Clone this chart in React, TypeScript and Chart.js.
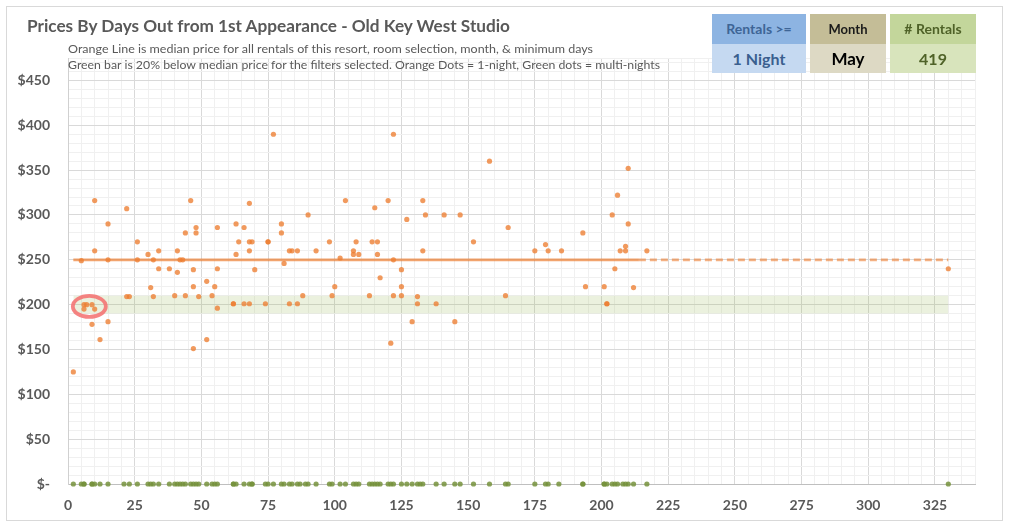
import React, { useEffect, useLayoutEffect, useRef } from "react";
import { Chart, registerables } from "chart.js";

Chart.register(...registerables);

// ---- Data ----
const orangeX = [2, 5, 6, 7, 6, 9, 10, 10, 10, 9, 12, 15, 15, 15, 22, 22, 23, 26, 26, 30, 34, 32, 34, 31, 32, 38, 41, 41, 42, 43, 40, 44, 46, 44, 48, 48, 47, 47, 47, 49, 52, 52, 55, 54, 56, 56, 56, 62, 62, 66, 68, 63, 66, 64, 63, 68, 69, 68, 68, 70, 74, 75, 75, 77, 80, 80, 81, 83, 84, 86, 83, 86, 88, 90, 93, 98, 99, 100, 102, 104, 107, 107, 109, 108, 113, 114, 115, 116, 116, 117, 120, 121, 122, 122, 122, 125, 125, 125, 127, 129, 131, 131, 133, 133, 134, 138, 141, 145, 147, 152, 158, 165, 164, 175, 179, 180, 185, 193, 194, 201, 202, 202, 204, 206, 205, 207, 209, 209, 210, 210, 212, 217, 330];
const orangeY = [125, 249, 200, 200, 195, 200, 195, 316, 260, 178, 161, 290, 250, 181, 307, 209, 209, 270, 250, 256, 260, 250, 240, 219, 209, 240, 260, 236, 250, 250, 210, 210, 316, 280, 286, 280, 239, 220, 151, 209, 226, 161, 220, 210, 286, 240, 196, 201, 201, 201, 201, 290, 286, 270, 256, 270, 270, 260, 313, 239, 201, 270, 270, 390, 290, 280, 246, 260, 260, 260, 201, 201, 210, 300, 260, 270, 210, 220, 252, 316, 260, 256, 256, 270, 210, 270, 308, 270, 256, 230, 316, 157, 390, 250, 210, 239, 220, 210, 295, 181, 209, 201, 316, 260, 300, 201, 300, 181, 300, 270, 360, 286, 210, 260, 267, 260, 260, 280, 220, 220, 201, 201, 300, 322, 240, 260, 260, 265, 352, 290, 219, 260, 240];
const greenX = [2, 5, 6, 6, 9, 9, 10, 12, 15, 21, 23, 26, 30, 31, 32, 34, 38, 40, 41, 42, 43, 44, 46, 47, 48, 49, 52, 54, 55, 56, 62, 62, 63, 66, 68, 69, 69, 74, 75, 77, 80, 81, 83, 84, 86, 87, 89, 90, 93, 98, 99, 102, 104, 107, 108, 109, 113, 114, 115, 116, 117, 120, 121, 122, 125, 127, 129, 131, 132, 133, 138, 141, 145, 147, 152, 158, 164, 165, 175, 179, 180, 184, 193, 193, 201, 201, 202, 204, 205, 206, 208, 209, 210, 212, 217, 330];
const greenPrice = 0;
const medianPrice = 250;
const medianSolidX = [2, 214];
const medianDashedX = [214, 330];
const bandX = [2, 330];
const bandLow = 190;
const bandHigh = 210;
const highlightX = 8;
const highlightY = 198;

const xMax = 340;
const yMax = 475;
const xMajor = 25;
const yMajor = 50;
const xMinor = 5;
const yMinor = 10;

const titleText = "Prices By Days Out from 1st Appearance - Old Key West Studio";
const subLine1 = "Orange Line is median price for all rentals of this resort, room selection, month, & minimum days";
const subLine2 = "Green bar is 20% below median price for the filters selected. Orange Dots = 1-night, Green dots = multi-nights";

const boxHeaders = ["Rentals >=", "Month", "# Rentals"];
const boxValues = ["1 Night", "May", "419"];

const FONT = "Lato, 'Open Sans', sans-serif";

function FitText({ text, width, style }: { text: string; width: number; style: React.CSSProperties }) {
  const ref = useRef<HTMLSpanElement>(null);
  useLayoutEffect(() => {
    const el = ref.current;
    if (!el) return;
    el.style.transform = "none";
    const w = el.getBoundingClientRect().width;
    if (w > 0) el.style.transform = `scaleX(${width / w})`;
  }, [text, width]);
  return (
    <span
      ref={ref}
      style={{ position: "absolute", whiteSpace: "nowrap", transformOrigin: "left center", fontFamily: FONT, ...style }}
    >
      {text}
    </span>
  );
}

const highlightPlugin = {
  id: "highlightCircle",
  afterDatasetsDraw(chart: any) {
    const { ctx, scales } = chart;
    const cx = scales.x.getPixelForValue(highlightX);
    const cy = scales.y.getPixelForValue(highlightY);
    ctx.save();
    ctx.beginPath();
    ctx.ellipse(cx, cy, 16.5, 10.5, 0, 0, Math.PI * 2);
    ctx.strokeStyle = "rgba(245,110,110,0.85)";
    ctx.lineWidth = 3.8;
    ctx.stroke();
    ctx.restore();
  },
};

export default function App() {
  const canvasRef = useRef<HTMLCanvasElement>(null);

  useEffect(() => {
    document.body.style.margin = "0";
    const canvas = canvasRef.current;
    if (!canvas) return;

    const xTicks: number[] = [];
    for (let v = 0; v <= xMax; v += xMinor) xTicks.push(v);
    const yTicks: number[] = [];
    for (let v = 0; v <= yMax; v += yMinor) yTicks.push(v);
    if (yTicks[yTicks.length - 1] !== yMax) yTicks.push(yMax);

    const orangePts = orangeX.map((x, i) => ({ x, y: orangeY[i] }));
    const greenPts = greenX.map((x) => ({ x, y: greenPrice }));

    const chart = new Chart(canvas, {
      type: "scatter",
      data: {
        datasets: [
          {
            label: "multi",
            data: greenPts,
            backgroundColor: "rgba(118,146,60,0.85)",
            borderWidth: 0,
            pointRadius: 2.6,
            clip: false as any,
            order: 0,
          },
          {
            label: "1-night",
            data: orangePts,
            backgroundColor: "rgba(237,125,49,0.78)",
            borderWidth: 0,
            pointRadius: 2.6,
            order: 1,
          },
          {
            label: "median",
            data: medianSolidX.map((x) => ({ x, y: medianPrice })),
            showLine: true,
            borderColor: "rgba(237,125,49,0.7)",
            borderWidth: 2.8,
            pointRadius: 0,
            order: 2,
          },
          {
            label: "median dashed",
            data: medianDashedX.map((x) => ({ x, y: medianPrice })),
            showLine: true,
            borderColor: "rgba(237,125,49,0.6)",
            borderWidth: 2.8,
            borderDash: [7, 4],
            pointRadius: 0,
            order: 2,
          },
          {
            label: "band low",
            data: bandX.map((x) => ({ x, y: bandLow })),
            showLine: true,
            borderWidth: 0,
            borderColor: "rgba(0,0,0,0)",
            pointRadius: 0,
            order: 5,
          },
          {
            label: "band high",
            data: bandX.map((x) => ({ x, y: bandHigh })),
            showLine: true,
            borderWidth: 0,
            borderColor: "rgba(0,0,0,0)",
            backgroundColor: "rgba(155,187,89,0.2)",
            fill: "-1",
            pointRadius: 0,
            order: 4,
          },
        ],
      },
      options: {
        animation: false,
        responsive: false,
        events: [],
        layout: { padding: { left: 0, right: 34, top: 58, bottom: 0 } },
        plugins: {
          legend: { display: false },
          tooltip: { enabled: false },
          title: { display: false },
        },
        scales: {
          x: {
            type: "linear",
            min: 0,
            max: xMax,
            afterFit: (s: any) => {
              s.height = 43;
            },
            afterBuildTicks: (s: any) => {
              s.ticks = xTicks.map((value) => ({ value }));
            },
            border: { display: true, color: "#BFBFBF", width: 1 },
            grid: {
              drawTicks: false,
              color: (c: any) => (c.tick && c.tick.value % xMajor === 0 ? "#D9D9D9" : "#F0F0F0"),
              lineWidth: 1,
            },
            ticks: {
              autoSkip: false,
              maxRotation: 0,
              padding: 13,
              color: "#595959",
              font: { family: FONT, size: 14, weight: "bold" },
              callback: (v: any) => (Number(v) % xMajor === 0 && Number(v) < xMax ? String(v) : ""),
            },
          },
          y: {
            type: "linear",
            min: 0,
            max: yMax,
            afterFit: (s: any) => {
              s.width = 68;
            },
            afterBuildTicks: (s: any) => {
              s.ticks = yTicks.map((value) => ({ value }));
            },
            border: { display: true, color: "#D0D0D0", width: 1 },
            grid: {
              drawTicks: false,
              color: (c: any) =>
                c.tick && c.tick.value % yMajor === 0 && c.tick.value !== 0 ? "#D9D9D9" : "#F0F0F0",
              lineWidth: 1,
            },
            ticks: {
              autoSkip: false,
              padding: 18,
              color: "#595959",
              font: { family: FONT, size: 14, weight: "bold" },
              callback: (v: any) => {
                const n = Number(v);
                if (n % yMajor !== 0 || n > 450) return "";
                return n === 0 ? "$-" : "$" + n;
              },
            },
          },
        },
      },
      plugins: [highlightPlugin],
    });

    return () => chart.destroy();
  }, []);

  const boxes = [
    { left: 712, width: 94, head: "#8DB4E2", body: "#C5D9F1", headColor: "#3E6596", bodyColor: "#3A5F8F", headSize: 14, bodySize: 16 },
    { left: 810, width: 76, head: "#C4BD97", body: "#DDD9C4", headColor: "#1A1A1A", bodyColor: "#000000", headSize: 13, bodySize: 17 },
    { left: 890, width: 86, head: "#C3D69B", body: "#D8E4BC", headColor: "#4F6228", bodyColor: "#4F6228", headSize: 14, bodySize: 16 },
  ];

  return (
    <div style={{ position: "relative", width: 1009, height: 527, overflow: "hidden", background: "#FFFFFF" }}>
      <div
        style={{
          position: "absolute",
          left: 6,
          top: 6,
          width: 995,
          height: 513,
          border: "1px solid #D9D9D9",
          boxSizing: "content-box",
        }}
      />
      <canvas ref={canvasRef} width={1009} height={527} style={{ position: "absolute", left: 0, top: 0, width: 1009, height: 527 }} />
      <FitText
        text={titleText}
        width={483}
        style={{ left: 27, top: 15, lineHeight: "22px", fontSize: 17, fontWeight: 700, color: "#595959" }}
      />
      <FitText
        text={subLine1}
        width={525}
        style={{ left: 68, top: 42, lineHeight: "14px", fontSize: 11.5, color: "#595959" }}
      />
      <FitText
        text={subLine2}
        width={592}
        style={{ left: 68, top: 58, lineHeight: "14px", fontSize: 11.5, color: "#595959" }}
      />
      {boxes.map((b, i) => (
        <div key={i} style={{ position: "absolute", left: b.left, top: 14, width: b.width, fontFamily: FONT, fontWeight: 700 }}>
          <div
            style={{
              height: 30,
              lineHeight: "30px",
              background: b.head,
              color: b.headColor,
              fontSize: b.headSize,
              textAlign: "center",
            }}
          >
            {boxHeaders[i]}
          </div>
          <div
            style={{
              height: 29,
              lineHeight: "29px",
              background: b.body,
              color: b.bodyColor,
              fontSize: b.bodySize,
              textAlign: "center",
            }}
          >
            {boxValues[i]}
          </div>
        </div>
      ))}
    </div>
  );
}
